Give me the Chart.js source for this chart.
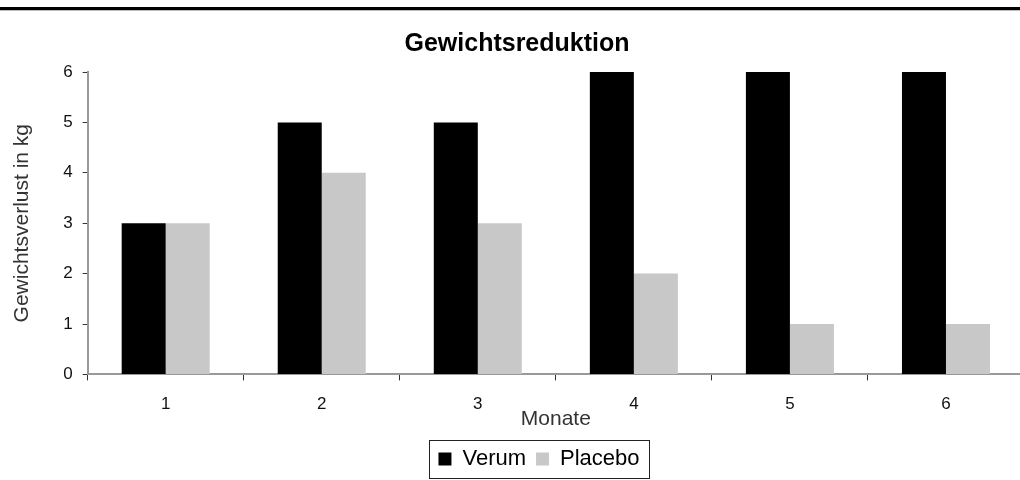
<!DOCTYPE html>
<html>
<head>
<meta charset="utf-8">
<script src="https://cdn.jsdelivr.net/npm/chart.js@4/dist/chart.umd.min.js"></script>
<style>
  html, body { margin: 0; padding: 0; background: #fff; overflow: hidden; }
  #wrap { position: relative; width: 1026px; height: 480px; }
</style>
</head>
<body>
<div id="wrap"><canvas id="chart"></canvas></div>
<script>
// chart data
const months = ['1', '2', '3', '4', '5', '6'];
const verum = [3, 5, 5, 6, 6, 6];
const placebo = [3, 4, 3, 2, 1, 1];
const yTicks = [0, 1, 2, 3, 4, 5, 6];

const FONT = '"Liberation Sans", Arial, sans-serif';
const LEGEND_SHIFT = 22;

// top rule, legend frame and legend offset
const extras = {
    id: 'extras',
    afterLayout(chart) {
        const lg = chart.legend;
        lg.left += LEGEND_SHIFT;
        lg.right += LEGEND_SHIFT;
    },
    beforeDraw(chart) {
        const ctx = chart.ctx;
        ctx.save();
        ctx.fillStyle = '#fff';
        ctx.fillRect(0, 0, chart.width, chart.height);
        ctx.fillStyle = '#000';
        ctx.fillRect(0, 7, chart.width, 3);
        ctx.fillStyle = '#bbb';
        ctx.fillRect(0, 10, chart.width, 1);
        ctx.restore();
    },
    afterDraw(chart) {
        // hit boxes already follow the shifted legend
        const boxes = chart.legend.legendHitBoxes;
        if (!boxes || !boxes.length) return;
        const first = boxes[0];
        const last = boxes[boxes.length - 1];
        const x0 = first.left - 9;
        const x1 = last.left + last.width + 10;
        const y0 = first.top + first.height / 2 - 19;
        const ctx = chart.ctx;
        ctx.save();
        ctx.strokeStyle = '#222';
        ctx.lineWidth = 1;
        ctx.strokeRect(Math.round(x0) + 0.5, Math.round(y0) + 0.5, Math.round(x1 - x0), 38);
        ctx.restore();
    }
};

new Chart(document.getElementById('chart'), {
    type: 'bar',
    data: {
        labels: months,
        datasets: [
            { label: 'Verum', data: verum, backgroundColor: '#000000' },
            { label: 'Placebo', data: placebo, backgroundColor: '#c8c8c8' }
        ]
    },
    options: {
        responsive: true,
        maintainAspectRatio: false,
        animation: false,
        devicePixelRatio: 1,
        layout: { padding: { left: 10, right: 2, top: 0, bottom: 0 } },
        datasets: {
            bar: { categoryPercentage: 0.564, barPercentage: 1.0, borderWidth: 0 }
        },
        plugins: {
            title: {
                display: true,
                text: 'Gewichtsreduktion',
                color: '#000',
                font: { family: FONT, size: 25, weight: 'bold' },
                padding: { top: 29, bottom: 13 }
            },
            legend: {
                position: 'bottom',
                labels: {
                    color: '#000',
                    font: { family: FONT, size: 22 },
                    boxWidth: 13,
                    boxHeight: 13,
                    padding: 10
                }
            },
            tooltip: { enabled: false }
        },
        scales: {
            x: {
                offset: true,
                grid: {
                    offset: true,
                    drawOnChartArea: false,
                    drawTicks: true,
                    tickLength: 6,
                    color: '#333'
                },
                border: { color: '#999', width: 2 },
                ticks: {
                    color: '#111',
                    font: { family: FONT, size: 17 },
                    padding: 14
                },
                title: {
                    display: true,
                    text: 'Monate',
                    color: '#333',
                    font: { family: FONT, size: 21 },
                    padding: { top: -22, bottom: 6 }
                }
            },
            y: {
                min: 0,
                max: 6,
                afterBuildTicks(scale) {
                    scale.ticks = yTicks.map(v => ({ value: v }));
                },
                grid: {
                    drawOnChartArea: false,
                    drawTicks: true,
                    tickLength: 5,
                    color: '#333'
                },
                border: { color: '#999', width: 2, dash: [2, 2] },
                ticks: {
                    color: '#111',
                    font: { family: FONT, size: 17 },
                    padding: 10
                },
                title: {
                    display: true,
                    text: 'Gewichtsverlust in kg',
                    color: '#333',
                    font: { family: FONT, size: 21 },
                    padding: { top: 0, bottom: 18 }
                }
            }
        }
    },
    plugins: [extras]
});
</script>
</body>
</html>
